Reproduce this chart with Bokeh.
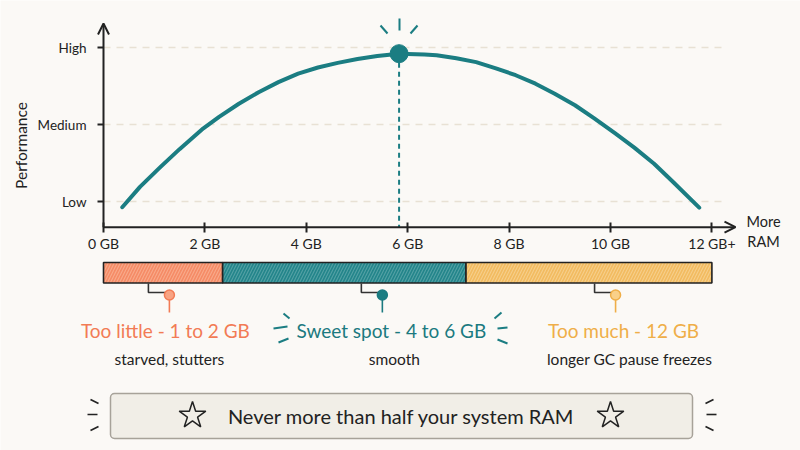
from math import pi
from bokeh.plotting import figure
from bokeh.models import Range1d, LinearAxis, FixedTicker, Arrow, OpenHead, ColumnDataSource
from bokeh.embed import file_html
from bokeh.resources import INLINE
from bokeh.core.properties import value

# ---------------- data ----------------
ram_gb = [0.37, 0.72, 1.11, 1.50, 1.97, 2.28, 2.67, 3.06, 3.45, 3.84, 4.23, 4.62, 5.01,
          5.40, 5.83, 6.33, 6.57, 6.96, 7.35, 7.74, 8.13, 8.52, 8.90, 9.30, 9.68, 10.08,
          10.47, 10.86, 11.24, 11.75]
performance = [0.926, 1.19, 1.44, 1.68, 1.95, 2.10, 2.27, 2.42, 2.55, 2.66, 2.74, 2.80, 2.85,
               2.89, 2.92, 2.91, 2.90, 2.86, 2.81, 2.73, 2.64, 2.53, 2.40, 2.25, 2.08, 1.89,
               1.70, 1.49, 1.25, 0.92]
peak_gb = [5.83]
peak_perf = [2.92]

level_values = [1, 2, 3]
level_labels = ["Low", "Medium", "High"]
gb_ticks = [0, 2, 4, 6, 8, 10, 12]
gb_tick_labels = ["0 GB", "2 GB", "4 GB", "6 GB", "8 GB", "10 GB", "12 GB+"]

zone_start_gb = [0.0, 2.35, 7.15]
zone_end_gb = [2.35, 7.15, 12.0]
zone_callout_gb = [1.3, 5.5, 10.1]
zone_titles = ["Too little - 1 to 2 GB", "Sweet spot - 4 to 6 GB", "Too much - 12 GB"]
zone_notes = ["starved, stutters", "smooth", "longer GC pause freezes"]
tip_text = "Never more than half your system RAM"

# ---------------- layout / style ----------------
W, H = 800, 450
X0_PX, PX_PER_GB = 103.0, 50.7
Y_LOW_PX, PX_PER_LEVEL = 201.0, 77.0
AXIS_PX = 226.7
BG = "#FBF9F6"
INK = "#222222"
TEAL = "#1B7D82"
FONT_NAME = "Lato"
FONT = value(FONT_NAME)

zone_fill = ["#F58B66", "#23858A", "#F2BB60"]
zone_hatch = ["#F9B194", "#5FA8AB", "#F7D395"]
zone_text = ["#F27B55", "#1B7A80", "#EFAE48"]
zone_dot_fill = ["#F8A383", "#1B7D82", "#F9D089"]

def lvl(px):
    return 1 + (Y_LOW_PX - px) / PX_PER_LEVEL

def gb(px):
    return (px - X0_PX) / PX_PER_GB

X_AXIS_Y = lvl(AXIS_PX)

p = figure(width=W, height=H, output_backend="svg", toolbar_location=None,
           x_range=Range1d(gb(0), gb(W)), y_range=Range1d(lvl(H), lvl(0)),
           x_axis_type=None, y_axis_type=None, min_border=0,
           background_fill_color=BG, border_fill_color=BG, outline_line_color=None)
p.grid.visible = False
p.extra_x_ranges = {"px": Range1d(0, W)}
p.extra_y_ranges = {"px": Range1d(H, 0)}

# grid lines
p.segment(x0=[0] * 3, x1=[gb(722)] * 3, y0=level_values, y1=level_values,
          line_color="#E8E1D4", line_width=1.3, line_dash="7 6")

# axes (ticks + labels) fixed at their crossing location
xaxis = LinearAxis(fixed_location=X_AXIS_Y, ticker=FixedTicker(ticks=gb_ticks),
                   major_label_overrides={t: l for t, l in zip(gb_ticks, gb_tick_labels)},
                   axis_line_color=None, minor_tick_line_color=None,
                   major_tick_in=5, major_tick_out=5, major_tick_line_width=2,
                   major_tick_line_color=INK, major_label_standoff=3,
                   major_label_text_font=FONT_NAME, major_label_text_font_size="14px",
                   major_label_text_color=INK)
p.add_layout(xaxis, "below")
yaxis = LinearAxis(fixed_location=0, ticker=FixedTicker(ticks=level_values),
                   major_label_overrides={v: l for v, l in zip(level_values, level_labels)},
                   axis_line_color=None, minor_tick_line_color=None,
                   major_tick_in=0, major_tick_out=6, major_tick_line_width=2,
                   major_tick_line_color=INK, major_label_standoff=11,
                   major_label_text_font=FONT_NAME, major_label_text_font_size="13.5px",
                   major_label_text_color=INK)
p.add_layout(yaxis, "left")

# axis lines with arrow heads
p.add_layout(Arrow(end=OpenHead(size=11, line_width=2, line_color=INK),
                   x_start=0, y_start=X_AXIS_Y, x_end=gb(735), y_end=X_AXIS_Y,
                   line_width=2, line_color=INK))
p.add_layout(Arrow(end=OpenHead(size=11, line_width=2, line_color=INK),
                   x_start=0, y_start=X_AXIS_Y, x_end=0, y_end=lvl(23),
                   line_width=2, line_color=INK))

p.text(x=[20], y=[145], text=["Performance"], angle=pi / 2, x_range_name="px", y_range_name="px",
       text_font=FONT, text_font_size="15.5px", text_color=INK,
       text_align="center", text_baseline="middle")
p.text(x=[763, 763], y=[221, 241], text=["More", "RAM"], x_range_name="px", y_range_name="px",
       text_font=FONT, text_font_size="14.5px", text_color=INK,
       text_align="center", text_baseline="middle")

# performance curve and sweet-spot peak
p.segment(x0=peak_gb, x1=peak_gb, y0=peak_perf, y1=[X_AXIS_Y],
          line_color=TEAL, line_width=2, line_dash="5 4")
p.line(ram_gb, performance, line_color=TEAL, line_width=4, line_cap="round", line_join="round")
p.scatter(peak_gb, peak_perf, size=18, fill_color=TEAL, line_color=TEAL)
p.segment(x0=[380, 399, 410], y0=[25, 18, 33], x1=[387, 399, 417], y1=[33, 30, 25],
          x_range_name="px", y_range_name="px", line_color=TEAL, line_width=2)

# zone bar
zones = ColumnDataSource(dict(start=zone_start_gb, end=zone_end_gb, fill=zone_fill,
                              hatch=zone_hatch))
p.quad(left="start", right="end", top=262, bottom=282.5, source=zones, y_range_name="px",
       fill_color="fill", hatch_pattern="/", hatch_color="hatch", hatch_scale=6,
       hatch_weight=1.1, hatch_alpha=0.8, line_color=INK, line_width=1.6)

# callouts
cx = zone_callout_gb
bx = [c - gb(X0_PX + 21) for c in cx]
p.multi_line(xs=[[b, b, c] for b, c in zip(bx, cx)], ys=[[283, 292, 292]] * 3,
             y_range_name="px", line_color="#333333", line_width=1.6)
p.segment(x0=cx, x1=cx, y0=[296] * 3, y1=[312] * 3, y_range_name="px",
          line_color=zone_text, line_width=1.6)
p.scatter(cx, [294.5] * 3, y_range_name="px", size=10, fill_color=zone_dot_fill,
          line_color=zone_text, line_width=1.5)

title_dx = [-4, 9, 8]
note_dx = [0, 12, 14]
p.text(x=cx, y=[330] * 3, text=zone_titles, x_offset=title_dx, y_range_name="px",
       text_font=FONT, text_font_size="19px", text_color=zone_text,
       text_align="center", text_baseline="middle")
p.text(x=cx, y=[358] * 3, text=zone_notes, x_offset=note_dx, y_range_name="px",
       text_font=FONT, text_font_size="15.5px", text_color=INK,
       text_align="center", text_baseline="middle")

# emphasis marks around the sweet spot label
p.segment(x0=[283, 273, 278, 494, 497, 497], y0=[313, 328, 342, 318, 328, 339],
          x1=[289, 287, 288, 501, 507, 507], y1=[318, 326, 338, 312, 327, 343],
          x_range_name="px", y_range_name="px", line_color=TEAL, line_width=2)

# bottom tip box
p.rect(x=[401], y=[415.5], width=[582], height=[45], x_range_name="px", y_range_name="px",
       fill_color="#F1EEE7", line_color="#A7A299", line_width=1.5, border_radius=4)
p.scatter([192, 610], [415, 415], x_range_name="px", y_range_name="px", marker="star",
          size=28, fill_alpha=0, line_color=INK, line_width=1.5)
p.text(x=[401], y=[415], text=[tip_text], x_range_name="px", y_range_name="px",
       text_font=FONT, text_font_size="20px", text_color=INK,
       text_align="center", text_baseline="middle")
p.segment(x0=[90, 87, 90, 705, 706, 705], y0=[399, 414, 430, 403, 414, 426],
          x1=[98, 97, 98, 713, 716, 713], y1=[403, 414, 426, 399, 414, 430],
          x_range_name="px", y_range_name="px", line_color=INK, line_width=1.6)

open("out.html", "w").write(file_html(p, INLINE))
